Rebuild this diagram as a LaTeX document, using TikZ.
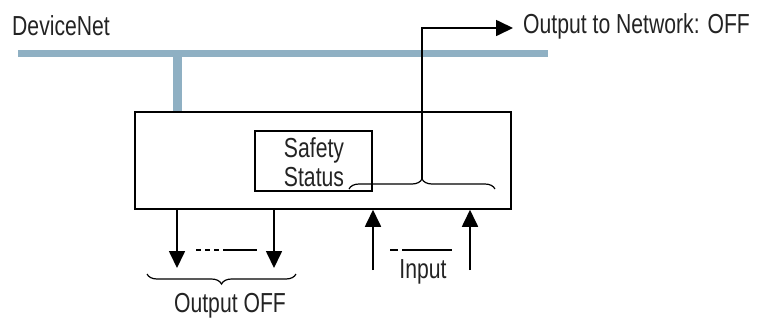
\documentclass[tikz,border=0pt]{standalone}
\usepackage{fontspec}
\setmainfont{Liberation Sans}[FakeStretch=0.77]
\usetikzlibrary{arrows.meta,decorations.pathreplacing,calc}
\definecolor{busblue}{RGB}{143,176,195}
\definecolor{txt}{RGB}{35,35,35}
\begin{document}
\begin{tikzpicture}[x=1pt,y=-1pt,
  lbl/.style={font=\fontsize{27.5}{29}\selectfont, text=txt, inner sep=0pt},
  box/.style={draw=black, line width=1.5pt, inner sep=0pt},
  bus/.style={draw=busblue, line width=6.5pt},
  wire/.style={draw=black, line width=1.7pt},
  arr/.style={wire, -{Triangle[length=17pt,width=16pt]}},
  brc/.style={draw=black, line width=1.2pt, decorate, decoration={brace, amplitude=10pt}},
]
\useasboundingbox (0,0) rectangle (768,325);
% network bus
\node[lbl, anchor=base west] (dn) at (12,35) {DeviceNet};
\coordinate (busL) at (18,53.5);
\coordinate (busR) at (548,53.5);
\draw[bus] (busL) -- (busR);
% main box
\node[box, minimum width=376pt, minimum height=97pt] (main) at (323,160.5) {};
\coordinate (stub) at (177,53.5);
\draw[draw=busblue, line width=9pt] (stub) -- (stub |- main.north);
% safety status
\node[box, minimum width=117pt, minimum height=60pt] (ss) at (313.5,161) {};
\node[lbl, anchor=base] (saf) at (314,157) {Safety};
\node[lbl, anchor=base] (sta) at (314,186) {Status};
% brace to network output
\coordinate (bL) at (349,189);
\coordinate (bR) at (495,189);
\draw[brc] (bL) -- (bR);
\coordinate (btip) at (422,179);
\node[lbl, anchor=base west] (onet) at (523,33) {Output to Network: OFF};
\coordinate (onetin) at (513,28);
\draw[arr] (btip) |- (onetin);
% outputs
\coordinate (o1) at (177,268);
\coordinate (o2) at (274,268);
\draw[arr] (o1 |- main.south) -- (o1);
\draw[arr] (o2 |- main.south) -- (o2);
\coordinate (od1) at (196,250);
\coordinate (od2) at (257,250);
\draw[wire, line width=1.2pt, dash pattern=on 5pt off 4pt on 5pt off 4pt on 5pt off 4pt on 40pt] (od1) -- (od2);
\coordinate (obL) at (147,274);
\coordinate (obR) at (296,274);
\draw[brc, decoration={mirror}] (obL) -- (obR);
\node[lbl, anchor=base] (ooff) at (230,312) {Output OFF};
% inputs
\coordinate (i1) at (373,270);
\coordinate (i2) at (470,270);
\draw[arr] (i1) -- (i1 |- main.south);
\draw[arr] (i2) -- (i2 |- main.south);
\coordinate (id1) at (390,250);
\coordinate (id2) at (452,250);
\draw[wire, line width=1.2pt, dash pattern=on 8pt off 4pt on 60pt] (id1) -- (id2);
\node[lbl, anchor=base] (inp) at (423,278) {Input};
\end{tikzpicture}
\end{document}
